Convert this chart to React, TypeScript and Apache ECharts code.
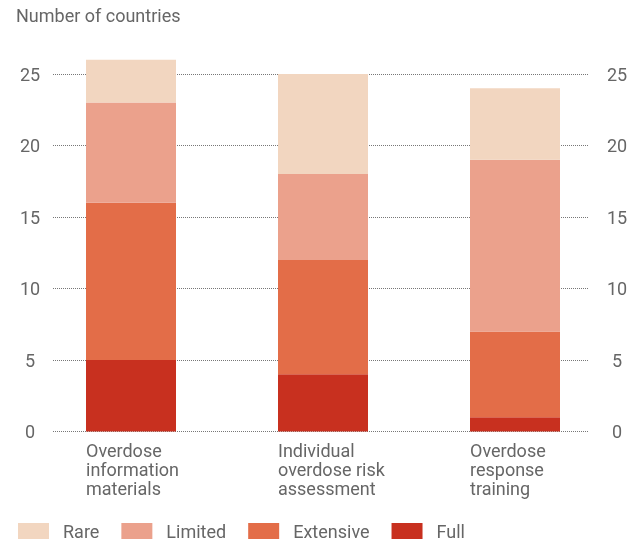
import React, { useEffect, useRef } from "react";
import * as echarts from "echarts";

const categories = [
  "Overdose\ninformation\nmaterials",
  "Individual\noverdose risk\nassessment",
  "Overdose\nresponse\ntraining",
];
const levels = ["Rare", "Limited", "Extensive", "Full"];
const full = [5, 4, 1];
const extensive = [11, 8, 6];
const limited = [7, 6, 12];
const rare = [3, 7, 5];
const colors: Record<string, string> = {
  Rare: "#F2D6C0",
  Limited: "#EBA18C",
  Extensive: "#E36D48",
  Full: "#C8301F",
};
const yTicks = { min: 0, max: 25, interval: 5 };

const FONT = "Roboto, 'Noto Sans', sans-serif";
const GRAY = "#666666";

export default function App() {
  const ref = useRef<HTMLDivElement>(null);
  useEffect(() => {
    if (!ref.current) return;
    const chart = echarts.init(ref.current, undefined, { renderer: "svg" });
    const seriesData: [string, number[]][] = [
      ["Full", full],
      ["Extensive", extensive],
      ["Limited", limited],
      ["Rare", rare],
    ];
    chart.setOption({
      animation: false,
      textStyle: { fontFamily: FONT },
      title: {
        text: "Number of countries",
        left: 16,
        top: 6,
        padding: 0,
        textStyle: { fontFamily: FONT, fontSize: 18, fontWeight: "normal", color: GRAY },
      },
      legend: {
        data: levels,
        left: 18,
        top: 522,
        padding: 0,
        icon: "rect",
        itemWidth: 31,
        itemHeight: 16,
        itemGap: 22,
        textStyle: { fontFamily: FONT, fontSize: 18, color: GRAY, padding: [0, 0, 0, 9] },
      },
      grid: [
        { left: 53, right: 55, top: 74, bottom: 111.5 },
        { left: 35, right: 32, top: 74, bottom: 111.5 },
      ],
      xAxis: [
        { type: "value", gridIndex: 0, min: 0, max: 1, show: false },
        {
          type: "category",
          gridIndex: 1,
          data: categories,
          axisLine: { show: false },
          axisTick: { show: false },
          axisLabel: {
            interval: 0,
            align: "left",
            verticalAlign: "top",
            margin: 9,
            padding: [0, 0, 0, -45],
            fontFamily: FONT,
            fontSize: 18,
            lineHeight: 19,
            color: GRAY,
          },
        },
      ],
      yAxis: [
        {
          type: "value",
          gridIndex: 0,
          position: "left",
          ...yTicks,
          axisLine: { show: false },
          axisTick: { show: false },
          axisLabel: { margin: 23, align: "center", fontFamily: FONT, fontSize: 18, color: GRAY },
          splitLine: { show: true, lineStyle: { type: "dotted", color: "#777777", width: 1 } },
        },
        {
          type: "value",
          gridIndex: 0,
          position: "right",
          ...yTicks,
          axisLine: { show: false },
          axisTick: { show: false },
          axisLabel: { margin: 29, align: "center", fontFamily: FONT, fontSize: 18, color: GRAY },
          splitLine: { show: false },
        },
        {
          type: "value",
          gridIndex: 1,
          ...yTicks,
          show: false,
          splitLine: { show: false },
        },
      ],
      series: seriesData.map(([name, data]) => ({
        name,
        type: "bar",
        stack: "total",
        xAxisIndex: 1,
        yAxisIndex: 2,
        barWidth: 90,
        clip: false,
        itemStyle: { color: colors[name] },
        data,
      })),
    });
    return () => chart.dispose();
  }, []);
  return (
    <div
      ref={ref}
      style={{ position: "fixed", left: 0, top: 0, width: 643, height: 543 }}
    />
  );
}
